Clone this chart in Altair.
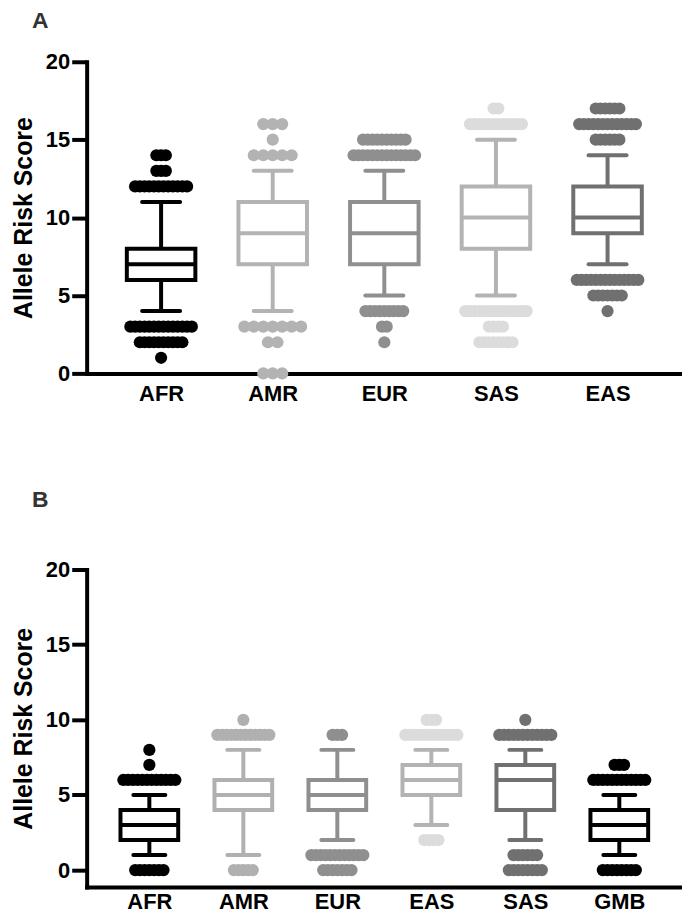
import altair as alt
import pandas as pd

# ---------------- Panel A data ----------------
A_groups = ["AFR", "AMR", "EUR", "SAS", "EAS"]
A_q1 = [6, 7, 7, 8, 9]
A_median = [7, 9, 9, 10, 10]
A_q3 = [8, 11, 11, 12, 12]
A_whisker_low = [4, 4, 5, 5, 7]
A_whisker_high = [11, 13, 13, 15, 14]
# outliers: group, value, number of points drawn at that value
A_out_group = ["AFR"] * 6 + ["AMR"] * 6 + ["EUR"] * 5 + ["SAS"] * 5 + ["EAS"] * 6
A_out_value = [14, 13, 12, 3, 2, 1,
               16, 15, 14, 3, 2, 0,
               15, 14, 4, 3, 2,
               17, 16, 4, 3, 2,
               17, 16, 15, 6, 5, 4]
A_out_count = [3, 3, 12, 14, 10, 1,
               3, 1, 5, 7, 2, 3,
               10, 14, 9, 2, 1,
               2, 12, 14, 4, 8,
               6, 13, 6, 14, 7, 1]
A_box_colors = ["#000000", "#b3b3b3", "#8f8f8f", "#b3b3b3", "#707070"]
A_dot_colors = ["#000000", "#b3b3b3", "#8f8f8f", "#dcdcdc", "#707070"]
A_dot_gap_px = [4.75, 9.5, 4.75, 4.75, 4.75]

# ---------------- Panel B data ----------------
B_groups = ["AFR", "AMR", "EUR", "EAS", "SAS", "GMB"]
B_q1 = [2, 4, 4, 5, 4, 2]
B_median = [3, 5, 5, 6, 6, 3]
B_q3 = [4, 6, 6, 7, 7, 4]
B_whisker_low = [1, 1, 2, 3, 2, 1]
B_whisker_high = [5, 8, 8, 8, 8, 5]
B_out_group = ["AFR"] * 4 + ["AMR"] * 3 + ["EUR"] * 3 + ["EAS"] * 3 + ["SAS"] * 4 + ["GMB"] * 3
B_out_value = [8, 7, 6, 0,
               10, 9, 0,
               9, 1, 0,
               10, 9, 2,
               10, 9, 1, 0,
               7, 6, 0]
B_out_count = [1, 1, 12, 7,
               1, 12, 5,
               3, 12, 7,
               3, 12, 4,
               1, 12, 6, 8,
               3, 12, 8]
B_box_colors = ["#000000", "#b0b0b0", "#8f8f8f", "#b3b3b3", "#707070", "#000000"]
B_dot_colors = ["#000000", "#b0b0b0", "#8f8f8f", "#dcdcdc", "#707070", "#000000"]
B_dot_gap_px = [4.75, 4.75, 4.75, 4.75, 4.75, 4.75]

Y_TICKS = [0, 5, 10, 15, 20]
Y_TITLE = "Allele Risk Score"

# ---------------- style constants ----------------
FONT = "Liberation Sans"
X_PAD = 0.667        # category-units of space at each end of the x axis
BOX_HALF = 0.307     # half box width, category units
CAP_HALF = 0.17      # half whisker-cap width, category units
LINE_W = 4
DOT_SIZE = 150


def panel(label, groups, q1, med, q3, lo, hi, box_colors, dot_colors, dot_gaps,
          og, ov, oc, ydomain, width, height, title_offset, xlabel_pad):
    n = len(groups)
    pos = {g: i + 1 for i, g in enumerate(groups)}
    xdom = [1 - X_PAD, n + X_PAD]
    step_px = width / (xdom[1] - xdom[0])
    gap_of = {g: gp / step_px for g, gp in zip(groups, dot_gaps)}

    box_df = pd.DataFrame({"group": groups, "pos": [pos[g] for g in groups],
                           "q1": q1, "median": med, "q3": q3, "lo": lo, "hi": hi})
    rows = []
    for g, v, c in zip(og, ov, oc):
        for j in range(c):
            rows.append({"group": g, "pos": pos[g], "value": v,
                         "shift": (j - (c - 1) / 2) * gap_of[g]})
    dot_df = pd.DataFrame(rows)

    xs = alt.Scale(domain=xdom, nice=False, zero=False)
    ys = alt.Scale(domain=ydomain, nice=False, zero=False)
    label_expr = "[" + ",".join("'%s'" % g for g in groups) + "][datum.value - 1]"
    xaxis = alt.Axis(values=list(range(1, n + 1)), labelExpr=label_expr, ticks=False,
                     tickSize=0, grid=False, title=None, domainWidth=LINE_W,
                     domainColor="black", labelFontSize=22, labelFontWeight="bold",
                     labelColor="black", labelPadding=xlabel_pad, labelFont=FONT)
    yaxis = alt.Axis(values=Y_TICKS, tickSize=15, tickWidth=LINE_W, tickColor="black",
                     domainWidth=LINE_W, domainColor="black", labelFontSize=22,
                     labelFontWeight="bold", labelColor="black", labelPadding=2,
                     labelFont=FONT, title=Y_TITLE, titleFontSize=25,
                     titleFontWeight="bold", titleColor="black", titleFont=FONT,
                     titlePadding=9, grid=False, format="d")

    def X(f):
        return alt.X(f, scale=xs, axis=xaxis)

    def Y(f):
        return alt.Y(f, scale=ys, axis=yaxis)

    box_scale = alt.Scale(domain=groups, range=box_colors)
    dot_scale = alt.Scale(domain=groups, range=dot_colors)
    stroke = alt.Stroke("group:N", scale=box_scale, legend=None)

    base = alt.Chart(box_df).transform_calculate(
        bl="datum.pos - %f" % BOX_HALF, br="datum.pos + %f" % BOX_HALF,
        cl="datum.pos - %f" % CAP_HALF, cr="datum.pos + %f" % CAP_HALF)

    whisker = base.mark_rule(strokeWidth=LINE_W).encode(
        x=X("pos:Q"), y=Y("lo:Q"), y2="hi:Q", stroke=stroke)
    box = base.mark_rect(fill="white", strokeWidth=LINE_W).encode(
        x=X("bl:Q"), x2="br:Q", y=Y("q1:Q"), y2="q3:Q", stroke=stroke)
    median = base.mark_rule(strokeWidth=LINE_W).encode(
        x=X("bl:Q"), x2="br:Q", y=Y("median:Q"), stroke=stroke)
    cap_lo = base.mark_rule(strokeWidth=LINE_W, strokeCap="round").encode(
        x=X("cl:Q"), x2="cr:Q", y=Y("lo:Q"), stroke=stroke)
    cap_hi = base.mark_rule(strokeWidth=LINE_W, strokeCap="round").encode(
        x=X("cl:Q"), x2="cr:Q", y=Y("hi:Q"), stroke=stroke)
    dots = alt.Chart(dot_df).transform_calculate(
        dx="datum.pos + datum.shift"
    ).mark_circle(size=DOT_SIZE, opacity=1).encode(
        x=X("dx:Q"), y=Y("value:Q"),
        fill=alt.Fill("group:N", scale=dot_scale, legend=None))

    return alt.layer(whisker, box, median, cap_lo, cap_hi, dots).properties(
        width=width, height=height,
        title=alt.TitleParams(label, anchor="start", frame="group", dx=-55,
                              fontSize=23, fontWeight="bold", color="#333333",
                              font=FONT, offset=title_offset))


chart_a = panel("A", A_groups, A_q1, A_median, A_q3, A_whisker_low, A_whisker_high,
                A_box_colors, A_dot_colors, A_dot_gap_px,
                A_out_group, A_out_value, A_out_count,
                [0, 20], 598, 313, 18, 10)
chart_b = panel("B", B_groups, B_q1, B_median, B_q3, B_whisker_low, B_whisker_high,
                B_box_colors, B_dot_colors, B_dot_gap_px,
                B_out_group, B_out_value, B_out_count,
                [-1.13, 20], 598, 319, 47, 4)

chart = alt.vconcat(chart_a, chart_b, spacing=85).resolve_scale(
    stroke="independent", fill="independent"
).properties(
    padding={"left": 3, "top": 0, "right": 0, "bottom": 0}
).configure_view(stroke=None).configure_axis(domainCap="square")

chart.save("out.html", embed_options={"renderer": "svg", "actions": False})
